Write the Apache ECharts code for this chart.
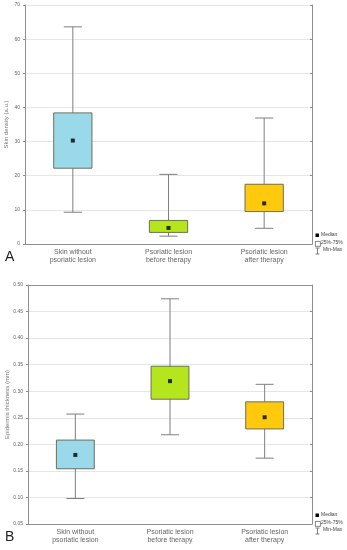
<!DOCTYPE html>
<html><head><meta charset="utf-8">
<script src="https://cdn.jsdelivr.net/npm/echarts@6/dist/echarts.min.js"></script>
<style>html,body{margin:0;padding:0;background:#fff}#c{width:347px;height:550px}</style>
</head><body><div id="c"></div>
<script>
const categories = ['Skin without\npsoriatic lesion', 'Psoriatic lesion\nbefore therapy', 'Psoriatic lesion\nafter therapy'];
const boxColors = ['#99d9ea', '#b5e61d', '#ffc90e'];

const densityMin = [9.3, 2.3, 4.6];
const densityQ1 = [22.2, 3.4, 9.5];
const densityMedian = [30.3, 4.7, 11.9];
const densityQ3 = [38.4, 6.9, 17.5];
const densityMax = [63.6, 20.4, 36.9];

const thickMin = [0.098, 0.218, 0.174];
const thickQ1 = [0.154, 0.285, 0.229];
const thickMedian = [0.180, 0.319, 0.251];
const thickQ3 = [0.208, 0.347, 0.280];
const thickMax = [0.257, 0.474, 0.313];

const densityTicks = {min: 0, max: 70, interval: 10};
const thickTicks = {min: 0.05, max: 0.50, interval: 0.05};

function rows(mn, q1, md, q3, mx) {
  return categories.map((c, i) => [i, mn[i], q1[i], md[i], q3[i], mx[i]]);
}

function renderBox(params, api) {
  const i = api.value(0);
  const pMin = api.coord([i, api.value(1)]);
  const pQ1 = api.coord([i, api.value(2)]);
  const pQ3 = api.coord([i, api.value(4)]);
  const pMax = api.coord([i, api.value(5)]);
  const band = api.size([1, 0])[0];
  const bw = band * 0.4, cw = band * 0.19;
  const x = pMin[0];
  const wStyle = {stroke: '#7f7f7f', lineWidth: 1};
  return {
    type: 'group',
    children: [
      {type: 'line', shape: {x1: x, y1: pMin[1], x2: x, y2: pMax[1]}, style: wStyle},
      {type: 'line', shape: {x1: x - cw / 2, y1: pMin[1], x2: x + cw / 2, y2: pMin[1]}, style: wStyle},
      {type: 'line', shape: {x1: x - cw / 2, y1: pMax[1], x2: x + cw / 2, y2: pMax[1]}, style: wStyle},
      {type: 'rect', shape: {x: x - bw / 2, y: pQ3[1], width: bw, height: pQ1[1] - pQ3[1]},
        style: {fill: boxColors[i], stroke: '#6e6e5a', lineWidth: 1}}
    ]
  };
}

const labelFont = {fontFamily: 'Arial, Liberation Sans, sans-serif', color: '#666'};

function xAxes(gi) {
  return [
    {type: 'category', gridIndex: gi, data: categories, boundaryGap: true,
      axisLine: {lineStyle: {color: '#909090'}},
      axisTick: {alignWithLabel: true, length: 2, lineStyle: {color: '#909090'}},
      axisLabel: Object.assign({fontSize: 7, lineHeight: 8, margin: 4, interval: 0}, labelFont),
      splitLine: {show: false}},
    {type: 'category', gridIndex: gi, data: categories, position: 'top', boundaryGap: true,
      axisLine: {lineStyle: {color: '#909090'}},
      axisTick: {alignWithLabel: true, inside: true, length: 2, lineStyle: {color: '#909090'}},
      axisLabel: {show: false}}
  ];
}

function yAxes(gi, t, name, gap, fmt) {
  return [
    {type: 'value', gridIndex: gi, min: t.min, max: t.max, interval: t.interval,
      name: name, nameLocation: 'middle', nameGap: gap, nameMoveOverlap: false,
      nameTextStyle: Object.assign({fontSize: 6}, labelFont, {color: '#777'}),
      axisLine: {show: true, lineStyle: {color: '#909090'}},
      axisTick: {show: true, length: 2, lineStyle: {color: '#909090'}},
      axisLabel: Object.assign({fontSize: 5, margin: 5, formatter: fmt}, labelFont),
      splitLine: {show: true, lineStyle: {color: '#e6e6e6', width: 1}}},
    {type: 'value', gridIndex: gi, min: t.min, max: t.max, interval: t.interval, position: 'right',
      axisLine: {show: true, lineStyle: {color: '#909090'}},
      axisTick: {show: true, inside: true, length: 2, lineStyle: {color: '#909090'}},
      axisLabel: {show: false}, splitLine: {show: false}}
  ];
}

function legend(top) {
  const ts = {fontSize: 5, fill: '#444', fontFamily: 'Arial, Liberation Sans, sans-serif'};
  return [
    {type: 'rect', left: 315.5, top: top - 1.5, shape: {width: 3.5, height: 3.5}, style: {fill: '#000'}},
    {type: 'text', left: 321, top: top - 3, style: Object.assign({text: 'Median'}, ts)},
    {type: 'rect', left: 315, top: top + 6, shape: {width: 5, height: 5}, style: {fill: '#fff', stroke: '#666', lineWidth: 0.8}},
    {type: 'text', left: 321, top: top + 5, style: Object.assign({text: '25%-75%'}, ts)},
    {type: 'line', shape: {x1: 317.5, y1: top + 13, x2: 317.5, y2: top + 19}, style: {stroke: '#666', lineWidth: 0.8}},
    {type: 'line', shape: {x1: 315.5, y1: top + 13, x2: 319.5, y2: top + 13}, style: {stroke: '#666', lineWidth: 0.8}},
    {type: 'line', shape: {x1: 315.5, y1: top + 19, x2: 319.5, y2: top + 19}, style: {stroke: '#666', lineWidth: 0.8}},
    {type: 'text', left: 323, top: top + 12, style: Object.assign({text: 'Min-Max'}, ts)}
  ];
}

const chart = echarts.init(document.getElementById('c'), null, {renderer: 'canvas'});
chart.setOption({
  animation: false,
  backgroundColor: '#fff',
  grid: [
    {left: 25, top: 5, width: 287, height: 239, containLabel: false, outerBoundsMode: 'none'},
    {left: 28, top: 285, width: 284, height: 239, containLabel: false, outerBoundsMode: 'none'}
  ],
  xAxis: xAxes(0).concat(xAxes(1)),
  yAxis: yAxes(0, densityTicks, 'Skin density (a.u.)', 16, v => String(v))
    .concat(yAxes(1, thickTicks, 'Epidermis thickness (mm)', 18, v => v.toFixed(2))),
  series: [
    {type: 'custom', xAxisIndex: 0, yAxisIndex: 0, renderItem: renderBox,
      encode: {x: 0, y: [1, 2, 3, 4, 5]},
      data: rows(densityMin, densityQ1, densityMedian, densityQ3, densityMax)},
    {type: 'scatter', xAxisIndex: 0, yAxisIndex: 0, symbol: 'rect', symbolSize: 4,
      itemStyle: {color: '#000'}, z: 5,
      data: categories.map((c, i) => [i, densityMedian[i]])},
    {type: 'custom', xAxisIndex: 2, yAxisIndex: 2, renderItem: renderBox,
      encode: {x: 0, y: [1, 2, 3, 4, 5]},
      data: rows(thickMin, thickQ1, thickMedian, thickQ3, thickMax)},
    {type: 'scatter', xAxisIndex: 2, yAxisIndex: 2, symbol: 'rect', symbolSize: 4,
      itemStyle: {color: '#000'}, z: 5,
      data: categories.map((c, i) => [i, thickMedian[i]])}
  ],
  graphic: [
    {type: 'text', left: 5, top: 250, style: {text: 'A', fontSize: 14, fill: '#222', fontFamily: 'Arial, Liberation Sans, sans-serif'}},
    {type: 'text', left: 5, top: 530, style: {text: 'B', fontSize: 14, fill: '#222', fontFamily: 'Arial, Liberation Sans, sans-serif'}}
  ].concat(legend(235), legend(515))
});
</script>
</body></html>
